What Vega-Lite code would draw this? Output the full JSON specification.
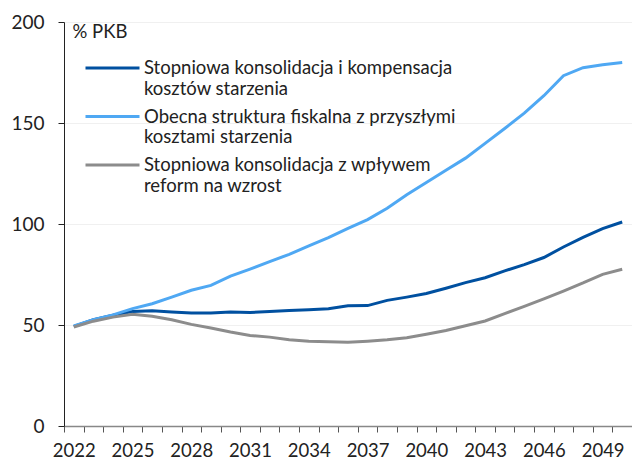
{
  "$schema": "https://vega.github.io/schema/vega-lite/v6.json",
  "width": 568,
  "height": 404,
  "autosize": {"type": "none"},
  "padding": {"left": 64, "top": 22, "right": 0, "bottom": 33},
  "background": "white",
  "config": {
    "font": "Lato",
    "view": {"stroke": null}
  },
  "datasets": {
    "d": [
      {"year": 2022, "s": "A", "v": 49.3}, {"year": 2023, "s": "A", "v": 52.6}, {"year": 2024, "s": "A", "v": 54.8}, {"year": 2025, "s": "A", "v": 56.7}, {"year": 2026, "s": "A", "v": 57.1}, {"year": 2027, "s": "A", "v": 56.4}, {"year": 2028, "s": "A", "v": 55.9}, {"year": 2029, "s": "A", "v": 55.9}, {"year": 2030, "s": "A", "v": 56.4}, {"year": 2031, "s": "A", "v": 56.2}, {"year": 2032, "s": "A", "v": 56.7}, {"year": 2033, "s": "A", "v": 57.2}, {"year": 2034, "s": "A", "v": 57.6}, {"year": 2035, "s": "A", "v": 58.1}, {"year": 2036, "s": "A", "v": 59.5}, {"year": 2037, "s": "A", "v": 59.6}, {"year": 2038, "s": "A", "v": 62.2}, {"year": 2039, "s": "A", "v": 63.8}, {"year": 2040, "s": "A", "v": 65.6}, {"year": 2041, "s": "A", "v": 68.2}, {"year": 2042, "s": "A", "v": 71.0}, {"year": 2043, "s": "A", "v": 73.4}, {"year": 2044, "s": "A", "v": 76.8}, {"year": 2045, "s": "A", "v": 79.9}, {"year": 2046, "s": "A", "v": 83.4}, {"year": 2047, "s": "A", "v": 88.6}, {"year": 2048, "s": "A", "v": 93.4}, {"year": 2049, "s": "A", "v": 97.7}, {"year": 2050, "s": "A", "v": 101.0},
      {"year": 2022, "s": "B", "v": 49.5}, {"year": 2023, "s": "B", "v": 52.6}, {"year": 2024, "s": "B", "v": 55.0}, {"year": 2025, "s": "B", "v": 58.1}, {"year": 2026, "s": "B", "v": 60.5}, {"year": 2027, "s": "B", "v": 63.8}, {"year": 2028, "s": "B", "v": 67.2}, {"year": 2029, "s": "B", "v": 69.6}, {"year": 2030, "s": "B", "v": 74.2}, {"year": 2031, "s": "B", "v": 77.7}, {"year": 2032, "s": "B", "v": 81.4}, {"year": 2033, "s": "B", "v": 85.0}, {"year": 2034, "s": "B", "v": 89.2}, {"year": 2035, "s": "B", "v": 93.3}, {"year": 2036, "s": "B", "v": 97.8}, {"year": 2037, "s": "B", "v": 102.2}, {"year": 2038, "s": "B", "v": 107.8}, {"year": 2039, "s": "B", "v": 114.5}, {"year": 2040, "s": "B", "v": 120.5}, {"year": 2041, "s": "B", "v": 126.6}, {"year": 2042, "s": "B", "v": 132.6}, {"year": 2043, "s": "B", "v": 139.9}, {"year": 2044, "s": "B", "v": 147.3}, {"year": 2045, "s": "B", "v": 154.9}, {"year": 2046, "s": "B", "v": 163.5}, {"year": 2047, "s": "B", "v": 173.4}, {"year": 2048, "s": "B", "v": 177.4}, {"year": 2049, "s": "B", "v": 178.8}, {"year": 2050, "s": "B", "v": 180.0},
      {"year": 2022, "s": "C", "v": 49.0}, {"year": 2023, "s": "C", "v": 51.9}, {"year": 2024, "s": "C", "v": 53.9}, {"year": 2025, "s": "C", "v": 55.3}, {"year": 2026, "s": "C", "v": 54.3}, {"year": 2027, "s": "C", "v": 52.6}, {"year": 2028, "s": "C", "v": 50.3}, {"year": 2029, "s": "C", "v": 48.5}, {"year": 2030, "s": "C", "v": 46.5}, {"year": 2031, "s": "C", "v": 44.8}, {"year": 2032, "s": "C", "v": 44.0}, {"year": 2033, "s": "C", "v": 42.7}, {"year": 2034, "s": "C", "v": 42.0}, {"year": 2035, "s": "C", "v": 41.7}, {"year": 2036, "s": "C", "v": 41.5}, {"year": 2037, "s": "C", "v": 42.0}, {"year": 2038, "s": "C", "v": 42.7}, {"year": 2039, "s": "C", "v": 43.7}, {"year": 2040, "s": "C", "v": 45.4}, {"year": 2041, "s": "C", "v": 47.3}, {"year": 2042, "s": "C", "v": 49.6}, {"year": 2043, "s": "C", "v": 52.0}, {"year": 2044, "s": "C", "v": 55.6}, {"year": 2045, "s": "C", "v": 59.2}, {"year": 2046, "s": "C", "v": 62.9}, {"year": 2047, "s": "C", "v": 66.8}, {"year": 2048, "s": "C", "v": 70.8}, {"year": 2049, "s": "C", "v": 75.1}, {"year": 2050, "s": "C", "v": 77.6}
    ]
  },
  "data": {"name": "d"},
  "mark": {"type": "line", "strokeWidth": 3, "interpolate": "linear"},
  "encoding": {
    "x": {
      "field": "year",
      "type": "ordinal",
      "bandPosition": 0.5,
      "scale": {"type": "band", "paddingInner": 0, "paddingOuter": 0},
      "axis": {
        "title": null,
        "labelAngle": 0,
        "labelExpr": "datum.value % 3 == 0 ? datum.label : ''",
        "labelOverlap": false,
        "labelFontSize": 18.5,
        "labelColor": "#222222",
        "labelPadding": 9,
        "labelBaseline": "top",
        "tickBand": "extent",
        "tickSize": 6,
        "tickColor": "#555555",
        "domainColor": "#888888",
        "domainWidth": 1.5,
        "grid": false
      }
    },
    "y": {
      "field": "v",
      "type": "quantitative",
      "scale": {"domain": [0, 200], "nice": false},
      "axis": {
        "values": [0, 50, 100, 150, 200],
        "title": "% PKB",
        "titleAngle": 0,
        "titleAlign": "left",
        "titleBaseline": "top",
        "titleX": 8,
        "titleY": 0,
        "titleFontSize": 18.5,
        "titleFontWeight": "normal",
        "titleColor": "#222222",
        "labelFontSize": 19,
        "labelColor": "#222222",
        "labelPadding": 14,
        "tickSize": 6,
        "tickColor": "#222222",
        "domainColor": "#222222",
        "gridColor": "#f0f0f0",
        "gridWidth": 1
      }
    },
    "color": {
      "field": "s",
      "type": "nominal",
      "scale": {"domain": ["A", "B", "C"], "range": ["#0050A0", "#4FA8F3", "#8C8C8C"]},
      "legend": {
        "title": null,
        "orient": "none",
        "legendX": 33.5,
        "legendY": 31,
        "labelExpr": "datum.value == 'A' ? ['Stopniowa konsolidacja i kompensacja', 'kosztów starzenia'] : datum.value == 'B' ? ['Obecna struktura fiskalna z przyszłymi', 'kosztami starzenia'] : ['Stopniowa konsolidacja z wpływem', 'reform na wzrost']",
        "labelFontSize": 18.5,
        "labelLineHeight": 23.5,
        "labelColor": "#222222",
        "labelLimit": 500,
        "symbolType": "M-2,0H2",
        "symbolSize": 729,
        "symbolStrokeWidth": 3,
        "labelOffset": 16.5,
        "rowPadding": 3.5
      }
    }
  }
}
